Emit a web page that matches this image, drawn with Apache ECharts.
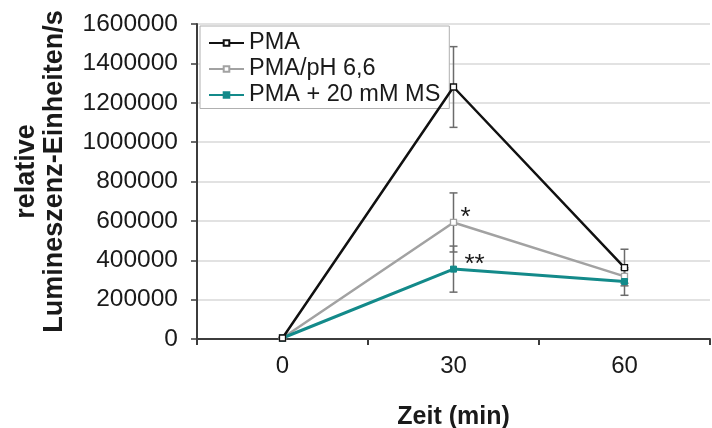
<!DOCTYPE html>
<html>
<head>
<meta charset="utf-8">
<script src="https://cdn.jsdelivr.net/npm/echarts@6/dist/echarts.min.js"></script>
<style>
  html, body { margin: 0; padding: 0; background: #fff; }
  #chart { width: 712px; height: 428px; }
</style>
</head>
<body>
<div id="chart"></div>
<script>
// Time points (min)
const zeit = ['0', '30', '60'];

// Mean relative luminescence units per time point
const pma      = [5000, 1280000, 363000];
const pmaPh    = [5000, 592000, 318000];
const pmaMs    = [5000, 355000, 292000];

// Standard deviations (error bars)
const errPma   = [3000, 205000, 93000];
const errPh    = [3000, 150000, 35000];
const errMs    = [3000, 117000, 70000];

// Significance marks
const sigPh = ['', '*', ''];
const sigMs = ['', '**', ''];

const seriesNames = ['PMA', 'PMA/pH 6,6', 'PMA + 20 mM MS'];
const yTicks = [0, 200000, 400000, 600000, 800000, 1000000, 1200000, 1400000, 1600000];

const FONT = '"Liberation Sans", Arial, Helvetica, sans-serif';
const TEXT = '#1a1a1a';

function errorSeries(means, errs) {
  return {
    type: 'custom',
    z: 1,
    silent: true,
    data: means.map((m, i) => [i, m - errs[i], m + errs[i]]),
    renderItem: function (params, api) {
      const lo = api.coord([api.value(0), api.value(1)]);
      const hi = api.coord([api.value(0), api.value(2)]);
      const x = lo[0];
      const w = 4;
      const style = { stroke: '#6b6b6b', lineWidth: 1.5 };
      return {
        type: 'group',
        children: [
          { type: 'line', shape: { x1: x, y1: lo[1], x2: x, y2: hi[1] }, style: style },
          { type: 'line', shape: { x1: x - w, y1: lo[1], x2: x + w, y2: lo[1] }, style: style },
          { type: 'line', shape: { x1: x - w, y1: hi[1], x2: x + w, y2: hi[1] }, style: style }
        ]
      };
    }
  };
}

function withMarks(values, marks, offset) {
  return values.map((v, i) => marks[i] ? {
    value: v,
    label: {
      show: true, formatter: marks[i], position: 'top', offset: offset,
      fontFamily: FONT, fontSize: 26, color: TEXT
    }
  } : v);
}

const chart = echarts.init(document.getElementById('chart'), null, { renderer: 'canvas' });

chart.setOption({
  animation: false,
  backgroundColor: '#fff',
  grid: { left: 197, right: 2, top: 24, bottom: 89, containLabel: false, outerBoundsMode: 'none' },
  legend: {
    orient: 'vertical',
    left: 200, top: 26,
    data: seriesNames,
    backgroundColor: '#fff',
    borderColor: '#b0b0b0', borderWidth: 1, borderRadius: 0,
    padding: [5, 9, 1.5, 8],
    itemGap: 2,
    itemWidth: 35, itemHeight: 7,
    textStyle: { fontFamily: FONT, fontSize: 23.5, color: TEXT }
  },
  xAxis: {
    type: 'category',
    data: zeit,
    boundaryGap: true,
    name: 'Zeit (min)',
    nameLocation: 'middle',
    nameGap: 66,
    nameTextStyle: { fontFamily: FONT, fontSize: 25, fontWeight: 'bold', color: TEXT },
    axisLine: { lineStyle: { color: '#3c3c3c', width: 2 } },
    axisTick: { show: true, length: 6, alignWithLabel: false, lineStyle: { color: '#3c3c3c', width: 2 } },
    axisLabel: { fontFamily: FONT, fontSize: 24, color: TEXT, margin: 15 },
    splitLine: { show: false }
  },
  yAxis: {
    type: 'value',
    min: 0, max: 1600000, interval: 200000,
    name: 'relative\nLumineszenz-Einheiten/s',
    nameLocation: 'middle',
    nameGap: 128,
    nameTextStyle: {
      fontFamily: FONT, fontSize: 27, fontWeight: 'bold', color: TEXT,
      lineHeight: 28, padding: [0, 0, 0, 20]
    },
    axisLine: { show: true, lineStyle: { color: '#3c3c3c', width: 2 } },
    axisTick: { show: true, length: 6, lineStyle: { color: '#3c3c3c', width: 1.5 } },
    axisLabel: {
      fontFamily: FONT, fontSize: 24.5, color: TEXT, margin: 19,
      formatter: v => yTicks.includes(v) ? String(v) : ''
    },
    splitLine: { show: true, lineStyle: { color: '#d9d9d9', width: 1.5 } }
  },
  series: [
    errorSeries(pma, errPma),
    errorSeries(pmaPh, errPh),
    errorSeries(pmaMs, errMs),
    {
      name: seriesNames[0], type: 'line', z: 4,
      data: pma,
      symbol: 'rect', symbolSize: 6,
      lineStyle: { color: '#111', width: 2.5 },
      itemStyle: { color: '#fff', borderColor: '#111', borderWidth: 1.3 }
    },
    {
      name: seriesNames[1], type: 'line', z: 3,
      data: withMarks(pmaPh, sigPh, [12, 17]),
      symbol: 'rect', symbolSize: 6,
      lineStyle: { color: '#a2a2a2', width: 2.5 },
      itemStyle: { color: '#fff', borderColor: '#a2a2a2', borderWidth: 1.3 }
    },
    {
      name: seriesNames[2], type: 'line', z: 3,
      data: withMarks(pmaMs, sigMs, [21, 17]),
      symbol: 'rect', symbolSize: 6,
      lineStyle: { color: '#138a8a', width: 3 },
      itemStyle: { color: '#138a8a', borderColor: '#138a8a', borderWidth: 1 }
    }
  ]
});
</script>
</body>
</html>
